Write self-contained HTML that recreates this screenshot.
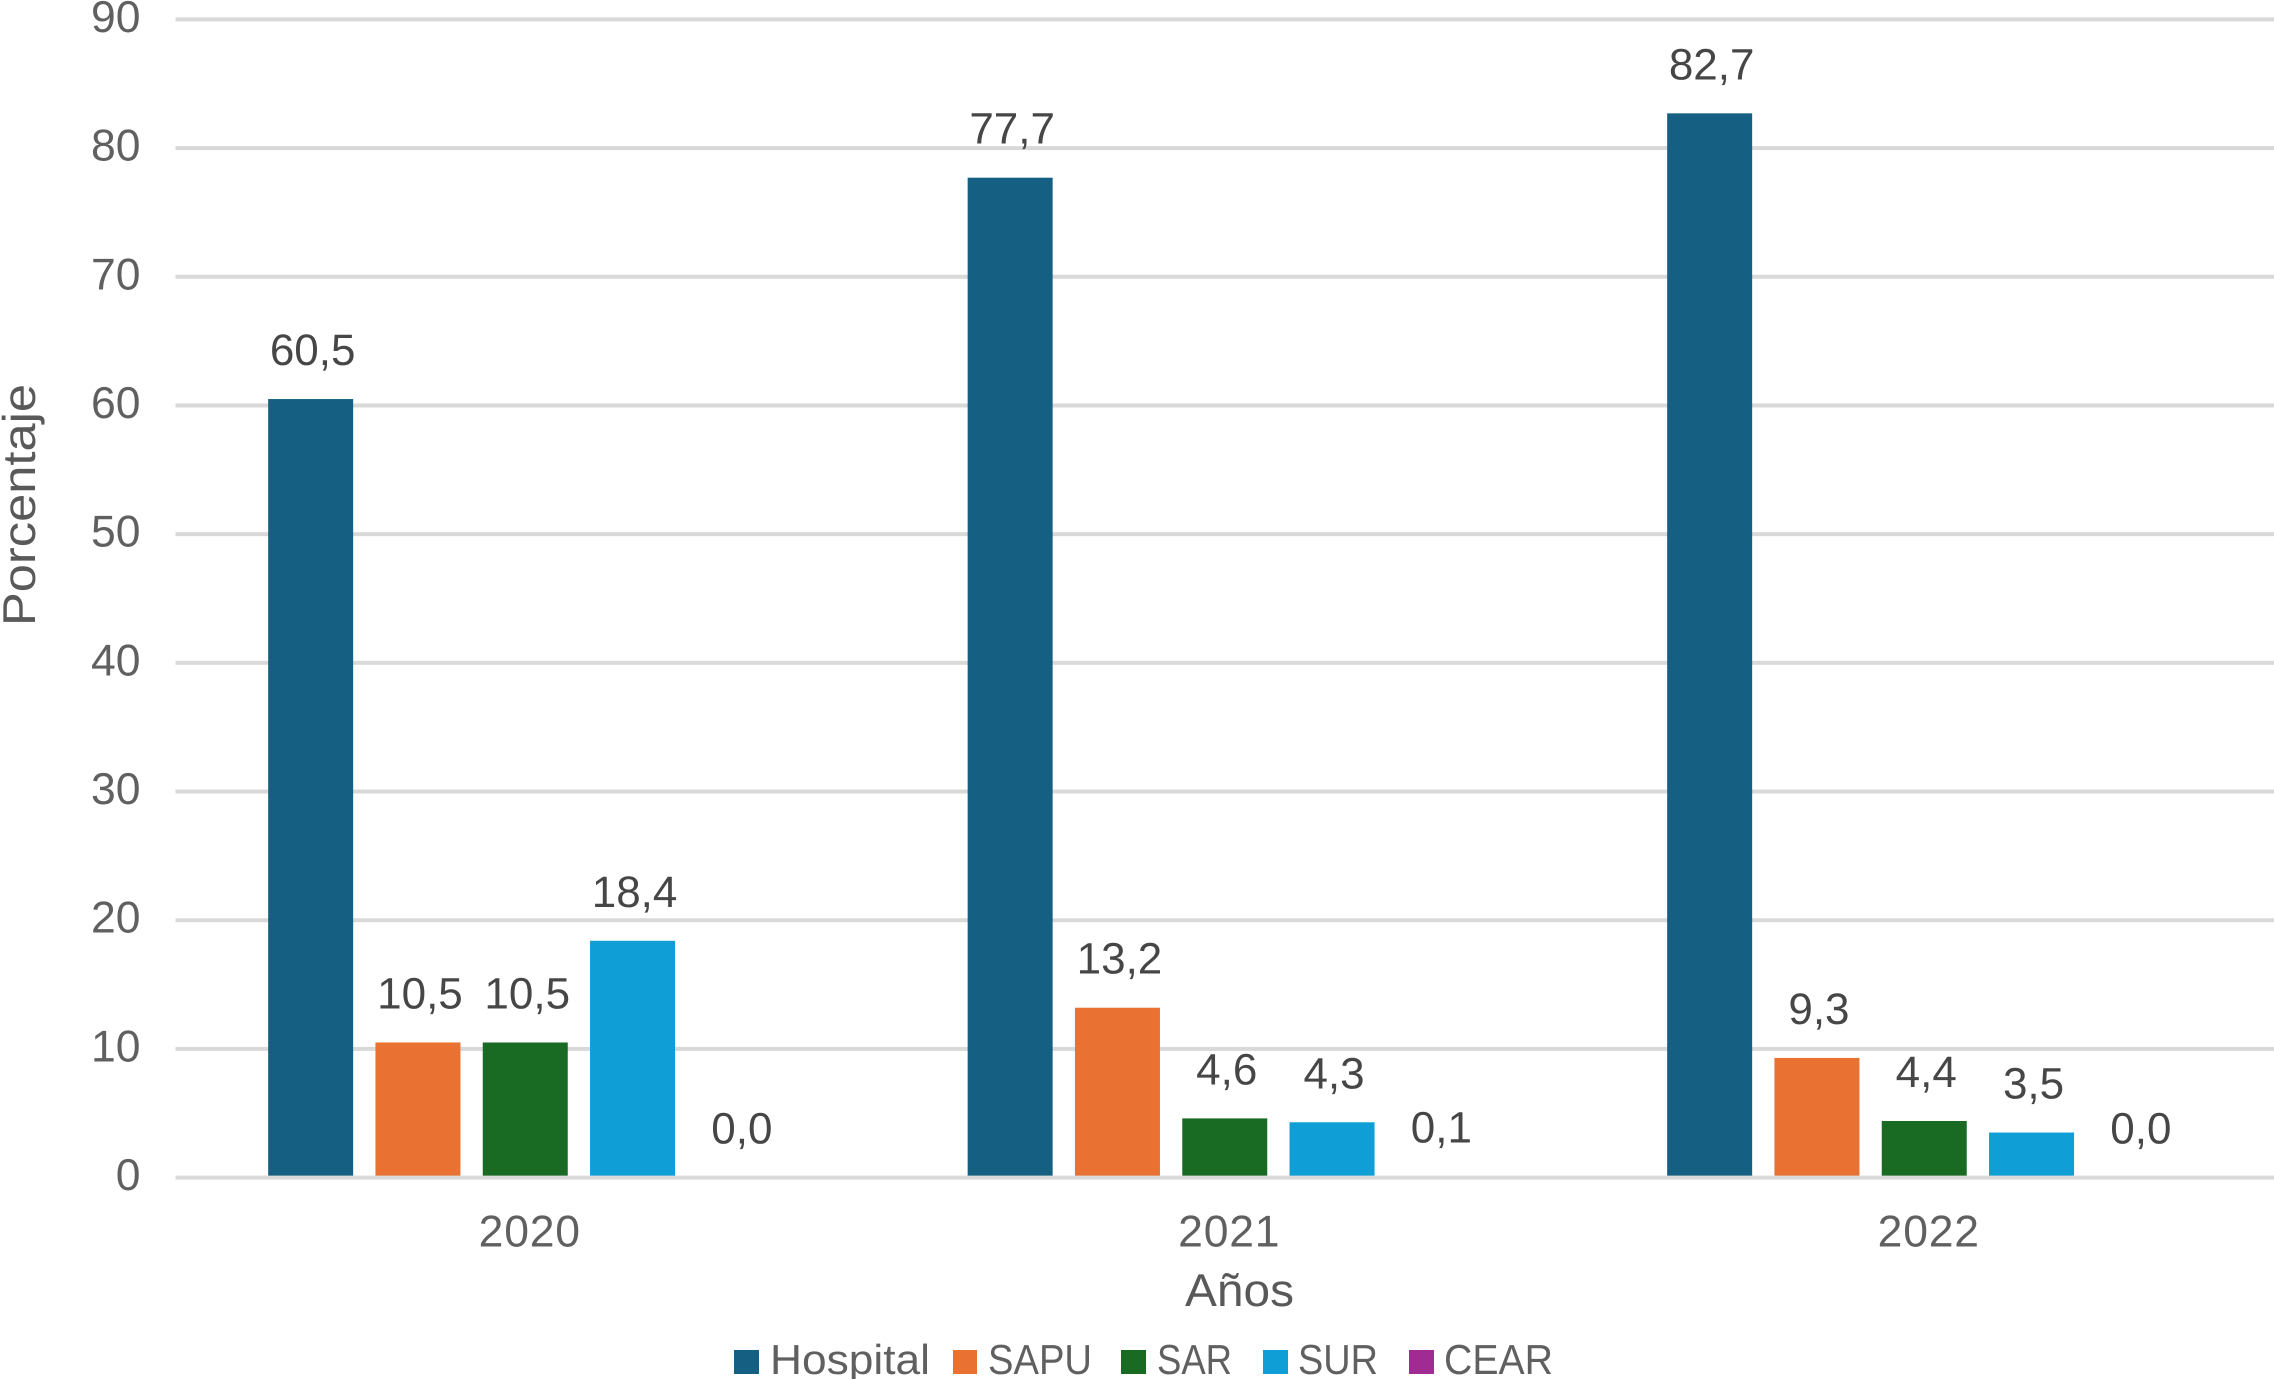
<!DOCTYPE html>
<html lang="es">
<head>
<meta charset="utf-8">
<title>Porcentaje por año</title>
<style>
html,body{margin:0;padding:0;background:#fff;width:2274px;height:1379px;overflow:hidden}
svg{display:block}
text{font-family:"Liberation Sans",sans-serif;text-rendering:geometricPrecision}
.tick{font-size:44.5px;fill:#606060}
.xtick{font-size:44.5px;fill:#606060;letter-spacing:0.8px}
.val{font-size:44px;fill:#464646}
.leg{font-size:42px;fill:#606060}
.title{font-size:46px;fill:#595959}
</style>
</head>
<body>
<svg id="chart" width="2274" height="1379" viewBox="0 0 2274 1379" xmlns="http://www.w3.org/2000/svg">
  <g id="grid"></g>
  <g id="yticks"></g>
  <g id="bars"></g>
  <g id="labels"></g>
  <g id="xticks"></g>
  <text class="title" x="1185" y="1306" textLength="109" lengthAdjust="spacingAndGlyphs">Años</text>
  <text class="title" transform="translate(35 626) rotate(-90)" x="0" y="0" textLength="242" lengthAdjust="spacingAndGlyphs">Porcentaje</text>
  <g>
    <g>
      <rect x="734" y="1350" width="25" height="24" fill="#156082"></rect>
      <text class="leg" x="770" y="1374" textLength="160" lengthAdjust="spacingAndGlyphs">Hospital</text>
    </g>
    <g>
      <rect x="953" y="1350" width="24" height="24" fill="#E97132"></rect>
      <text class="leg" x="988" y="1374" textLength="104" lengthAdjust="spacingAndGlyphs">SAPU</text>
    </g>
    <g>
      <rect x="1121" y="1350" width="25" height="24" fill="#196B24"></rect>
      <text class="leg" x="1157" y="1374" textLength="75" lengthAdjust="spacingAndGlyphs">SAR</text>
    </g>
    <g>
      <rect x="1263" y="1350" width="25" height="24" fill="#0F9ED5"></rect>
      <text class="leg" x="1298" y="1374" textLength="80" lengthAdjust="spacingAndGlyphs">SUR</text>
    </g>
    <g>
      <rect x="1409" y="1350" width="25" height="24" fill="#A02B93"></rect>
      <text class="leg" x="1444" y="1374" textLength="109" lengthAdjust="spacingAndGlyphs">CEAR</text>
    </g>
  </g>
</svg>
<script>
const years = ["2020", "2021", "2022"];
const yTicks = [0, 10, 20, 30, 40, 50, 60, 70, 80, 90];
const seriesNames = ["hospital", "sapu", "sar", "sur", "cear"];
const hospital = [60.5, 77.7, 82.7];
const sapu = [10.5, 13.2, 9.3];
const sar = [10.5, 4.6, 4.4];
const sur = [18.4, 4.3, 3.5];
const cear = [0.0, 0.1, 0.0];
const seriesColors = ["#156082", "#E97132", "#196B24", "#0F9ED5", "#A02B93"];

const NS = "http://www.w3.org/2000/svg";
const plotLeft = 175.5, plotRight = 2274, y0 = 1177.6, y90 = 19.4;
const catWidth = (plotRight - plotLeft) / years.length;
const barStep = 107.3, barWidth = 85;

function yScale(v) {
  return y0 - (v / 90) * (y0 - y90);
}
function xCategory(i) {
  return plotLeft + catWidth * (i + 0.5);
}
function xBar(i, s) {
  return xCategory(i) + (s - (seriesNames.length - 1) / 2) * barStep - barWidth / 2;
}
function make(tag, attrs, parent, txt) {
  const el = document.createElementNS(NS, tag);
  for (const k in attrs) el.setAttribute(k, attrs[k]);
  if (txt !== undefined) el.textContent = txt;
  parent.appendChild(el);
  return el;
}

const gridG = document.getElementById("grid");
const yTickG = document.getElementById("yticks");
const barsG = document.getElementById("bars");
const labelsG = document.getElementById("labels");
const xTickG = document.getElementById("xticks");

yTicks.forEach(function (t) {
  if (t !== 0) {
    const line = make("rect", {x: plotLeft, y: yScale(t) - 2, width: plotRight - plotLeft, height: 4, fill: "#d9d9d9"}, gridG);
    
    
  }
  const label = make("text", {class: "tick", x: 140.5, y: yScale(t) + 12.5, "text-anchor": "end"}, yTickG, String(t));
  
  
});

const allSeries = [hospital, sapu, sar, sur, cear];
allSeries.forEach(function (values, s) {
  values.forEach(function (v, i) {
    const top = yScale(v);
    const bar = make("rect", {x: xBar(i, s), y: top, width: barWidth, height: Math.max(0, y0 - top), fill: seriesColors[s]}, barsG);
    
    
    const lab = make("text", {class: "val", x: xBar(i, s) + barWidth / 2 + 2, y: top - 34, "text-anchor": "middle"}, labelsG, v.toFixed(1).replace(".", ","));
    
    
  });
});

const baseline = make("rect", {x: plotLeft, y: y0 - 2, width: plotRight - plotLeft, height: 4, fill: "#d9d9d9"}, barsG);



years.forEach(function (yr, i) {
  const t = make("text", {class: "xtick", x: xCategory(i) + 4.5, y: 1246.5, "text-anchor": "middle"}, xTickG, yr);
  
  
});
</script>
</body>
</html>
